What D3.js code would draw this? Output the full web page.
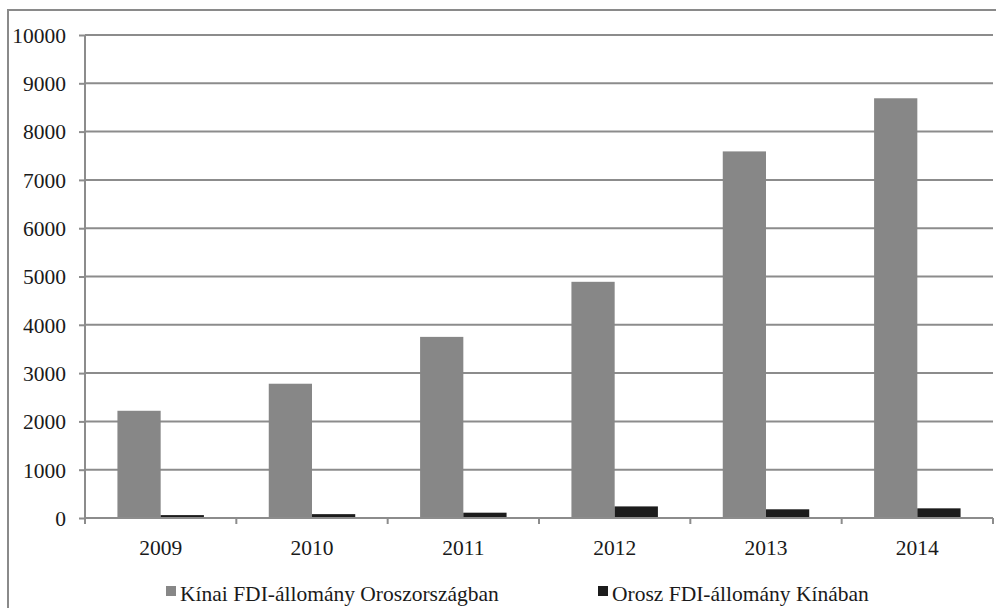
<!DOCTYPE html>
<html><head><meta charset="utf-8">
<script src="https://cdn.jsdelivr.net/npm/d3@7"></script>
<style>
html,body{margin:0;padding:0;background:#fff;}
svg{display:block;}
text{font-family:"Liberation Serif","Times New Roman",serif;fill:#1a1a1a;}
</style></head>
<body>
<svg id="chart" width="996" height="608"></svg>
<script>
const categories = ["2009","2010","2011","2012","2013","2014"];
const seriesNames = ["Kínai FDI-állomány Oroszországban","Orosz FDI-állomány Kínában"];
const chinaInRussia = [2220, 2780, 3750, 4890, 7590, 8690];
const russiaInChina = [60, 80, 110, 240, 180, 200];
const yTicks = [0,1000,2000,3000,4000,5000,6000,7000,8000,9000,10000];
const colors = ["#878787","#1c1c1c"];

const svg = d3.select("#chart");
const m = {left:85, right:993, top:35, bottom:518};

// outer border
svg.append("rect").attr("x",8).attr("y",10).attr("width",1000).attr("height",620)
  .attr("fill","none").attr("stroke","#8a8a8a").attr("stroke-width",2);

const x0 = d3.scaleBand().domain(categories).range([m.left, m.right]).padding(0);
const bw = x0.bandwidth();
const gap = bw * 1.5 / 3.5;
const x1 = d3.scaleBand().domain([0,1]).range([gap/2, bw - gap/2]).padding(0);
const y = d3.scaleLinear().domain([0,10000]).range([m.bottom, m.top]);

// gridlines
svg.append("g").selectAll("line").data(yTicks.filter(d=>d>0)).join("line")
  .attr("x1", m.left).attr("x2", m.right)
  .attr("y1", d=>y(d)).attr("y2", d=>y(d))
  .attr("stroke","#8c8c8c").attr("stroke-width",2);

// bars
const data = categories.map((c,i)=>({c, v:[chinaInRussia[i], russiaInChina[i]]}));
const g = svg.append("g");
data.forEach(d=>{
  d.v.forEach((v,s)=>{
    g.append("rect")
      .attr("x", x0(d.c) + x1(s))
      .attr("y", y(v))
      .attr("width", x1.bandwidth())
      .attr("height", y(0) - y(v))
      .attr("fill", colors[s]);
  });
});

// y axis
const yAxis = d3.axisLeft(y).tickValues(yTicks).tickSize(6).tickPadding(13).tickFormat(d3.format("d"));
const ya = svg.append("g").attr("transform",`translate(${m.left},0)`).call(yAxis);
ya.select(".domain").attr("stroke","#8c8c8c").attr("stroke-width",2).attr("d",`M0,${m.top}V${m.bottom}`);
ya.selectAll(".tick line").attr("stroke","#8c8c8c").attr("stroke-width",2);
ya.selectAll(".tick text").attr("font-size","21.5px").attr("font-family","Liberation Serif").attr("fill","#1a1a1a").attr("dy","0.34em");

// x axis
const xa = svg.append("g").attr("transform",`translate(0,${m.bottom})`);
xa.append("line").attr("x1",m.left).attr("x2",m.right).attr("y1",0).attr("y2",0)
  .attr("stroke","#8c8c8c").attr("stroke-width",2);
const bounds = categories.map(c=>x0(c)).concat([m.right]);
xa.selectAll("line.tk").data(bounds).join("line").attr("class","tk")
  .attr("x1",d=>d).attr("x2",d=>d).attr("y1",0).attr("y2",6)
  .attr("stroke","#8c8c8c").attr("stroke-width",2);
xa.selectAll("text").data(categories).join("text")
  .attr("x", d=>x0(d)+bw/2).attr("y", 37)
  .attr("text-anchor","middle").attr("font-size","21.5px").text(d=>d);

// legend
const legendX = [166, 598];
seriesNames.forEach((n,i)=>{
  svg.append("rect").attr("x",legendX[i]).attr("y",586).attr("width",10).attr("height",10).attr("fill",colors[i]);
  svg.append("text").attr("x",legendX[i]+14).attr("y",601).attr("font-size","21.5px").text(n);
});
</script>
</body></html>
